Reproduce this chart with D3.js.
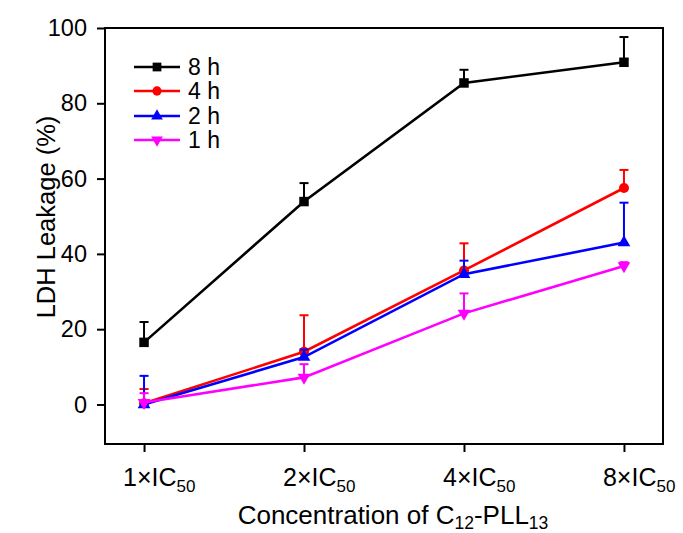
<!DOCTYPE html>
<html>
<head>
<meta charset="utf-8">
<script src="https://cdn.jsdelivr.net/npm/d3@7"></script>
<style>
  html, body { margin: 0; padding: 0; background: #fff; }
  text { font-family: "Liberation Sans", Arial, sans-serif; fill: #000; }
</style>
</head>
<body>
<svg id="chart" width="683" height="533"></svg>
<script>
// ---- data ----
const categories = ["1", "2", "4", "8"];
const yTicks = [0, 20, 40, 60, 80, 100];
const seriesNames = ["8 h", "4 h", "2 h", "1 h"];
const values8h = [16.5, 53.9, 85.4, 90.9];
const errors8h = [5.4, 4.9, 3.5, 6.7];
const values4h = [0.3, 14.0, 35.6, 57.5];
const errors4h = [3.8, 9.7, 7.2, 4.8];
const values2h = [0.0, 12.6, 34.6, 43.0];
const errors2h = [7.6, 2.0, 3.6, 10.6];
const values1h = [0.5, 7.2, 24.2, 36.8];
const errors1h = [2.5, 3.5, 5.3, 1.0];

const series = [
  { name: seriesNames[0], values: values8h, errors: errors8h, color: "#000000", symbol: d3.symbolSquare, size: 90, rot: 0 },
  { name: seriesNames[1], values: values4h, errors: errors4h, color: "#ff0000", symbol: d3.symbolCircle, size: 80, rot: 0 },
  { name: seriesNames[2], values: values2h, errors: errors2h, color: "#0000ff", symbol: d3.symbolTriangle, size: 70, rot: 0 },
  { name: seriesNames[3], values: values1h, errors: errors1h, color: "#ff00ff", symbol: d3.symbolTriangle, size: 70, rot: 180 }
];

const svg = d3.select("#chart");
const L = 105, R = 663, T = 28, B = 444;

const x = d3.scalePoint().domain(categories).range([L, R]).padding(0.244);
const y = d3.scaleLinear().domain([-10.5, 100]).range([B, T]);

// axes
const yAxis = d3.axisLeft(y).tickValues(yTicks).tickSize(8).tickPadding(10).tickFormat(d3.format("d"));
const gy = svg.append("g").attr("transform", `translate(${L},0)`).call(yAxis);
gy.select(".domain").remove();
gy.selectAll(".tick line").attr("stroke", "#000").attr("stroke-width", 2);
gy.selectAll(".tick text").style("font-size", "23.5px").attr("font-family", "Liberation Sans, Arial, sans-serif");

const xAxis = d3.axisBottom(x).tickSize(8).tickFormat("");
const gx = svg.append("g").attr("transform", `translate(0,${B})`).call(xAxis);
gx.select(".domain").remove();
gx.selectAll(".tick line").attr("stroke", "#000").attr("stroke-width", 2);

// x tick labels with subscripts
categories.forEach(c => {
  const t = svg.append("text")
    .attr("x", x(c) - 21)
    .attr("y", 486)
    .style("font-size", "25px");
  t.append("tspan").text(c + "\u00d7IC");
  t.append("tspan").attr("dy", 6).style("font-size", "17px").text("50");
});

// frame
svg.append("rect")
  .attr("x", L).attr("y", T).attr("width", R - L).attr("height", B - T)
  .attr("fill", "none").attr("stroke", "#000").attr("stroke-width", 2);

// axis titles
svg.append("text")
  .attr("transform", `translate(55,${(T + 406) / 2}) rotate(-90)`)
  .attr("text-anchor", "middle")
  .style("font-size", "25.5px")
  .text("LDH Leakage (%)");

const xt = svg.append("text")
  .attr("x", 393).attr("y", 524)
  .attr("text-anchor", "middle")
  .style("font-size", "26px");
xt.append("tspan").text("Concentration of C");
xt.append("tspan").attr("dy", 5).style("font-size", "17.5px").text("12");
xt.append("tspan").attr("dy", -5).text("-PLL");
xt.append("tspan").attr("dy", 5).style("font-size", "17.5px").text("13");

// series
series.forEach(s => {
  const g = svg.append("g");
  const pts = categories.map((c, i) => ({ c, v: s.values[i], e: s.errors[i] }));
  // error bars (upper only)
  pts.forEach(p => {
    g.append("line")
      .attr("x1", x(p.c)).attr("x2", x(p.c))
      .attr("y1", y(p.v)).attr("y2", y(p.v + p.e))
      .attr("stroke", s.color).attr("stroke-width", 2);
    g.append("line")
      .attr("x1", x(p.c) - 4.5).attr("x2", x(p.c) + 4.5)
      .attr("y1", y(p.v + p.e)).attr("y2", y(p.v + p.e))
      .attr("stroke", s.color).attr("stroke-width", 2);
  });
  g.append("path")
    .datum(pts)
    .attr("fill", "none")
    .attr("stroke", s.color)
    .attr("stroke-width", 2.6)
    .attr("d", d3.line().x(p => x(p.c)).y(p => y(p.v)));
  g.selectAll("path.m").data(pts).enter().append("path")
    .attr("class", "m")
    .attr("transform", p => `translate(${x(p.c)},${y(p.v)}) rotate(${s.rot})`)
    .attr("d", d3.symbol().type(s.symbol).size(s.size))
    .attr("fill", s.color);
});

// legend
const legY = [67, 91, 116, 140];
series.forEach((s, i) => {
  const g = svg.append("g").attr("transform", `translate(0,${legY[i]})`);
  g.append("line").attr("x1", 134).attr("x2", 180).attr("y1", 0).attr("y2", 0)
    .attr("stroke", s.color).attr("stroke-width", 2.6);
  g.append("path").attr("transform", `translate(157,0) rotate(${s.rot})`)
    .attr("d", d3.symbol().type(s.symbol).size(s.size * 0.85)).attr("fill", s.color);
  g.append("text").attr("x", 188).attr("y", 8).style("font-size", "23px").text(s.name);
});
</script>
</body>
</html>
